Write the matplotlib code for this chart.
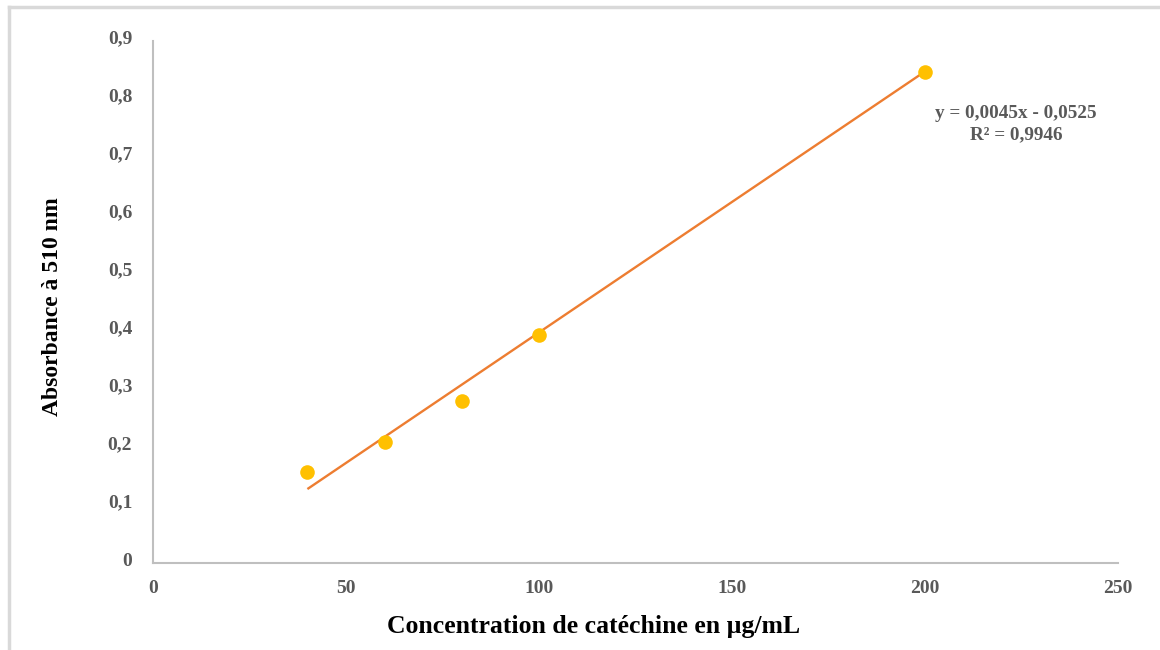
import matplotlib
matplotlib.use("Agg")
import matplotlib.pyplot as plt
from matplotlib.lines import Line2D
from matplotlib.transforms import ScaledTranslation
import numpy as np

# Data
concentration = [40, 60, 80, 100, 200]
absorbance = [0.157, 0.208, 0.280, 0.393, 0.846]
slope = 0.0045
intercept = -0.0525
r_squared = "0,9946"
x_ticks = [0, 50, 100, 150, 200, 250]
y_ticks = [0, 0.1, 0.2, 0.3, 0.4, 0.5, 0.6, 0.7, 0.8, 0.9]
y_tick_labels = ["0", "0,1", "0,2", "0,3", "0,4", "0,5", "0,6", "0,7", "0,8", "0,9"]
x_label = "Concentration de catéchine en µg/mL"
y_label = "Absorbance à 510 nm"

plt.rcParams['font.family'] = ['Liberation Serif', 'DejaVu Serif']

fig = plt.figure(figsize=(11.6, 6.5), dpi=100)
ax = fig.add_axes([153/1160, 1-563/650, (1118-153)/1160, (563-41)/650])

# trendline
tx = np.array([min(concentration), max(concentration)])
ax.plot(tx, slope*tx + intercept, color='#ED7D31', lw=1.7, zorder=2, solid_capstyle='butt')
ax.plot(concentration, absorbance, 'o', color='#FFC000', markersize=10.5, zorder=3, markeredgewidth=0)

ax.set_xlim(0, 250)
ax.set_ylim(0, 0.9)
ax.set_xticks(x_ticks)
ax.set_xticklabels([str(v) for v in x_ticks])
ax.set_yticks(y_ticks)
ax.set_yticklabels(y_tick_labels)
ax.tick_params(length=0, labelsize=14, colors='#595959')
ax.tick_params(axis='x', pad=12)
ax.tick_params(axis='y', pad=15)
for lab in ax.get_xticklabels() + ax.get_yticklabels():
    lab.set_fontweight('bold')
off = ScaledTranslation(0, 4/100, fig.dpi_scale_trans)
for lab in ax.get_yticklabels():
    lab.set_transform(lab.get_transform() + off)
for s in ['top', 'right']:
    ax.spines[s].set_visible(False)
for s in ['left', 'bottom']:
    ax.spines[s].set_color('#BFBFBF')
    ax.spines[s].set_linewidth(1.5)

fig.text(594/1160, 1-626/650, x_label, ha='center', va='center', fontsize=18.5,
         fontweight='bold', color='black')
fig.text(53/1160, 1-307/650, y_label, ha='center', va='center', fontsize=17,
         fontweight='bold', color='black', rotation=90)

eq = f"y = {str(slope).replace('.', ',')}x - {str(-intercept).replace('.', ',')}"
fig.text(1016/1160, 1-113/650, eq, ha='center', va='center', fontsize=13.8,
         fontweight='bold', color='#595959')
fig.text(1016/1160, 1-135/650, f"R² = {r_squared}", ha='center', va='center',
         fontsize=13.8, fontweight='bold', color='#595959')

# chart frame (top and left edges visible)
fig.add_artist(Line2D([8.5/1160, 8.5/1160], [0, 1-7/650], transform=fig.transFigure,
                      color='#D9D9D9', lw=2.5))
fig.add_artist(Line2D([8.5/1160, 1], [1-7/650, 1-7/650], transform=fig.transFigure,
                      color='#D9D9D9', lw=2.5))

fig.savefig("out.png", dpi=100)
